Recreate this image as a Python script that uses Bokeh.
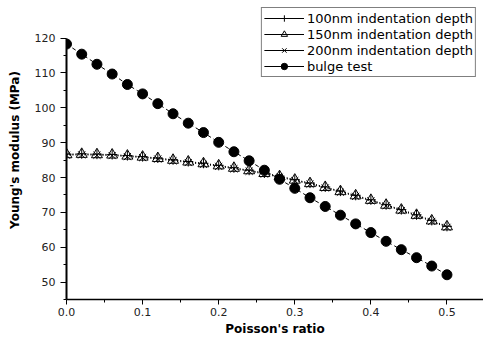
from bokeh.plotting import figure
from bokeh.models import (FixedTicker, NumeralTickFormatter, Legend, LegendItem,
                          ColumnDataSource, Range1d)
from bokeh.embed import file_html
from bokeh.resources import INLINE

# ---- data ----
poisson = [0.00, 0.02, 0.04, 0.06, 0.08, 0.10, 0.12, 0.14, 0.16, 0.18, 0.20, 0.22, 0.24,
           0.26, 0.28, 0.30, 0.32, 0.34, 0.36, 0.38, 0.40, 0.42, 0.44, 0.46, 0.48, 0.50]
depth_100 = [86.7, 86.8, 86.7, 86.6, 86.3, 86.0, 85.6, 85.1, 84.6, 84.1, 83.5, 82.8, 82.1,
             81.3, 80.4, 79.4, 78.4, 77.3, 76.1, 74.9, 73.6, 72.2, 70.8, 69.3, 67.7, 66.0]
depth_150 = [86.6, 86.7, 86.6, 86.5, 86.2, 85.9, 85.5, 85.0, 84.5, 84.0, 83.4, 82.7, 82.0,
             81.2, 80.3, 79.3, 78.3, 77.2, 76.0, 74.8, 73.5, 72.1, 70.7, 69.2, 67.6, 65.9]
depth_200 = [86.4, 86.5, 86.4, 86.3, 86.0, 85.7, 85.3, 84.8, 84.3, 83.8, 83.2, 82.5, 81.8,
             81.0, 80.1, 79.1, 78.1, 77.0, 75.8, 74.6, 73.3, 71.9, 70.5, 69.0, 67.4, 65.7]
bulge = [118.3, 115.4, 112.5, 109.7, 106.7, 104.0, 101.2, 98.3, 95.6, 92.9, 90.1, 87.4, 84.8,
         82.1, 79.5, 76.9, 74.2, 71.7, 69.2, 66.7, 64.2, 61.7, 59.3, 57.0, 54.6, 52.1]
labels = ["100nm indentation depth", "150nm indentation depth",
          "200nm indentation depth", "bulge test"]
x_ticks = [0.0, 0.1, 0.2, 0.3, 0.4, 0.5]
x_minor = [0.05, 0.15, 0.25, 0.35, 0.45]
y_ticks = [50, 60, 70, 80, 90, 100, 110, 120]
y_minor = [45, 55, 65, 75, 85, 95, 105, 115]

FONT = "DejaVu Sans"

p = figure(width=483, height=338, output_backend="svg", toolbar_location=None,
           x_range=Range1d(0, 0.548), y_range=Range1d(45, 130.8),
           min_border_left=66, min_border_right=0, min_border_top=0, min_border_bottom=39)
p.outline_line_color = None
p.grid.visible = False
p.background_fill_color = "white"

src = ColumnDataSource(dict(x=poisson, a=depth_100, b=depth_150, c=depth_200, d=bulge))
# off-screen stub so the legend shows a solid line sample
stub = ColumnDataSource(dict(x=[-10, -9], y=[0, 0]))

items = []
specs = [("a", "cross", 10), ("b", "triangle", 11), ("c", "x", 10)]
for (col, marker, size), lab in zip(specs, labels[:3]):
    p.line("x", col, source=src, line_color="black", line_width=1, line_dash="1 2")
    sc = p.scatter("x", col, source=src, marker=marker, size=size, line_color="black",
                   fill_alpha=0, line_width=1)
    lg = p.line("x", "y", source=stub, line_color="black", line_width=1)
    items.append(LegendItem(label=lab, renderers=[lg, sc]))

p.line("x", "d", source=src, line_color="black", line_width=1, line_dash="4 3")
sc = p.scatter("x", "d", source=src, marker="circle", size=10, line_color="black",
               fill_color="black")
lg = p.line("x", "y", source=stub, line_color="black", line_width=1)
items.append(LegendItem(label=labels[3], renderers=[lg, sc]))

legend = Legend(items=items, location="top_right", border_line_color="black",
                border_line_width=1, background_fill_color="white", background_fill_alpha=1,
                label_text_font=FONT, label_text_font_size="13px", label_text_color="black",
                glyph_width=40, glyph_height=16, label_height=16, label_standoff=3,
                spacing=0, padding=2, margin=7)
p.add_layout(legend)

for ax in (p.xaxis[0], p.yaxis[0]):
    ax.major_label_text_font = FONT
    ax.major_label_text_font_size = "11px"
    ax.major_label_text_color = "#222222"
    ax.axis_label_text_font = FONT
    ax.axis_label_text_font_style = "bold"
    ax.axis_label_text_font_size = "12px"
    ax.axis_label_text_color = "black"
    ax.axis_line_color = "black"
    ax.major_tick_line_color = "black"
    ax.minor_tick_line_color = "black"
    ax.major_tick_in = 0
    ax.minor_tick_in = 0

p.xaxis[0].ticker = FixedTicker(ticks=x_ticks, minor_ticks=x_minor)
p.xaxis[0].formatter = NumeralTickFormatter(format="0.0")
p.xaxis[0].axis_label = "Poisson's ratio"
p.xaxis[0].axis_line_width = 1.5
p.xaxis[0].major_tick_out = 5
p.xaxis[0].minor_tick_out = 3
p.xaxis[0].major_label_standoff = 3
p.xaxis[0].axis_label_standoff = 3

p.yaxis[0].ticker = FixedTicker(ticks=y_ticks, minor_ticks=y_minor)
p.yaxis[0].bounds = (45, 120)
p.yaxis[0].axis_label = "Young's modulus (MPa)"
p.yaxis[0].axis_line_width = 2
p.yaxis[0].major_tick_out = 6
p.yaxis[0].minor_tick_out = 3
p.yaxis[0].major_label_standoff = 5
p.yaxis[0].axis_label_standoff = 10

open("out.html", "w").write(file_html(p, INLINE))
